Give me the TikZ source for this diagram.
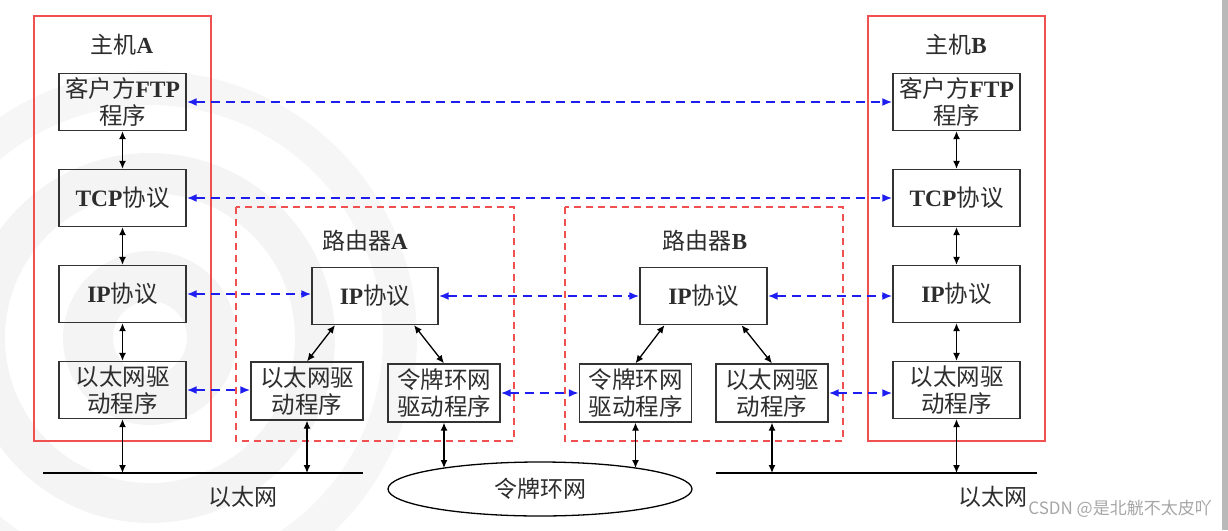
\documentclass[tikz,border=0pt]{standalone}
\usepackage{fontspec}
\setmainfont{Liberation Serif}
\newfontfamily\cjk{Noto Sans CJK SC}
\usetikzlibrary{arrows.meta,shapes.geometric}
\newcommand\zhs[1]{{\cjk #1}}
\definecolor{hostred}{RGB}{240,80,80}
\definecolor{txt}{RGB}{45,45,45}
\definecolor{peerblue}{RGB}{30,30,240}
\tikzset{
  layerbox/.style={draw=black!80, line width=1.3pt, minimum height=57, inner sep=0pt,
     align=center, text=txt, font=\fontsize{23.5}{27}\selectfont},
  hostwide/.style={layerbox, minimum width=127},
  rtrwide/.style={layerbox, minimum width=112, minimum height=58},
  lbl/.style={text=txt, font=\fontsize{23}{25}\selectfont, inner sep=0pt},
  hostframe/.style={draw=hostred, line width=1.4pt},
  rtrframe/.style={draw=hostred, line width=1.4pt, dash pattern=on 7pt off 5pt},
  vlink/.style={black, line width=1.3pt, {Latex[length=8pt,width=7pt]}-{Latex[length=8pt,width=7pt]}},
  peer/.style={peerblue, line width=2pt, dash pattern=on 9pt off 6pt, {Latex[length=10pt,width=8pt]}-{Latex[length=10pt,width=8pt]}},
  ethline/.style={black, line width=2.8pt},
}
\begin{document}
\begin{tikzpicture}[x=1pt,y=-1pt]
\useasboundingbox (0,0) rectangle (1228,530);
% faint background watermark
\begin{scope}
\clip (0,0) rectangle (1228,530);
\draw[gray!9, line width=50pt] (150,338) circle (62);
\draw[gray!9, line width=40pt] (150,338) circle (165);
\draw[gray!7, line width=34pt] (150,338) circle (250);
\end{scope}
\fill[gray!55] (1222,0) rectangle (1228,530);

% frames
\draw[hostframe] (34,16) rectangle (211,441);
\draw[hostframe] (868,16) rectangle (1045,441);
\draw[rtrframe] (236,207) rectangle (514,441);
\draw[rtrframe] (565,207) rectangle (843,441);

% frame labels
\node[lbl] (labA) at (122,45) {\zhs{主机}\textbf{A}};
\node[lbl] (labB) at (956,45) {\zhs{主机}\textbf{B}};
\node[lbl] (labRA) at (365,241) {\zhs{路由器}\textbf{A}};
\node[lbl] (labRB) at (705,241) {\zhs{路由器}\textbf{B}};

% host A
\node[hostwide] (aftp) at (122.5,102) {\zhs{客户方}\textbf{FTP}\\\zhs{程序}};
\node[hostwide] (atcp) at (122.5,198) {\textbf{TCP}\zhs{协议}};
\node[hostwide] (aip)  at (122.5,294) {\textbf{IP}\zhs{协议}};
\node[hostwide] (aeth) at (122.5,390) {\zhs{以太网驱}\\\zhs{动程序}};
% host B
\node[hostwide] (bftp) at (956.5,102) {\zhs{客户方}\textbf{FTP}\\\zhs{程序}};
\node[hostwide] (btcp) at (956.5,198) {\textbf{TCP}\zhs{协议}};
\node[hostwide] (bip)  at (956.5,294) {\textbf{IP}\zhs{协议}};
\node[hostwide] (beth) at (956.5,390) {\zhs{以太网驱}\\\zhs{动程序}};
% router A
\node[hostwide, minimum width=126] (raip) at (375,296) {\textbf{IP}\zhs{协议}};
\node[rtrwide] (raeth) at (307,391) {\zhs{以太网驱}\\\zhs{动程序}};
\node[rtrwide] (ratok) at (444,393) {\zhs{令牌环网}\\\zhs{驱动程序}};
% router B
\node[hostwide] (rbip) at (703.5,296) {\textbf{IP}\zhs{协议}};
\node[rtrwide] (rbtok) at (635.5,393) {\zhs{令牌环网}\\\zhs{驱动程序}};
\node[rtrwide] (rbeth) at (772,393) {\zhs{以太网驱}\\\zhs{动程序}};

% networks
\coordinate (ethL1) at (43,473);
\coordinate (ethL2) at (363,473);
\coordinate (ethR1) at (716,473);
\coordinate (ethR2) at (1037,473);
\draw[ethline] (ethL1) -- (ethL2);
\draw[ethline] (ethR1) -- (ethR2);
\node[lbl] (ethLlab) at (243,497) {\zhs{以太网}};
\node[lbl] (ethRlab) at (993,497) {\zhs{以太网}};
\node[draw=black, line width=1.3pt, ellipse, minimum width=304, minimum height=54, inner sep=0pt,
      text=txt, font=\fontsize{23}{25}\selectfont] (ring) at (540,489) {\zhs{令牌环网}};
\coordinate (ringA) at (444,468);
\coordinate (ringB) at (635.5,468);

% vertical links
\draw[vlink] (aftp) -- (atcp);
\draw[vlink] (atcp) -- (aip);
\draw[vlink] (aip) -- (aeth);
\draw[vlink] (aeth) -- (aeth.south |- ethL1);
\draw[vlink] (bftp) -- (btcp);
\draw[vlink] (btcp) -- (bip);
\draw[vlink] (bip) -- (beth);
\draw[vlink] (beth) -- (beth.south |- ethR1);
\draw[vlink] (raeth) -- (raeth.south |- ethL1);
\draw[vlink] (rbeth) -- (rbeth.south |- ethR1);
\draw[vlink] (ratok) -- (ringA);
\draw[vlink] (rbtok) -- (ringB);
% diagonal links
\draw[vlink] ([xshift=-40pt]raip.south) -- (raeth.north);
\draw[vlink] ([xshift=39pt]raip.south) -- (ratok.north);
\draw[vlink] ([xshift=-39pt]rbip.south) -- (rbtok.north);
\draw[vlink] ([xshift=38pt]rbip.south) -- (rbeth.north);

% peer links
\draw[peer] (aftp) -- (bftp);
\draw[peer] (atcp) -- (btcp);
\draw[peer] (aip.east) -- (aip.east -| raip.west);
\draw[peer] (raip) -- (rbip);
\draw[peer] (rbip.east) -- (rbip.east -| bip.west);
\draw[peer] (aeth.east) -- (aeth.east -| raeth.west);
\draw[peer] (ratok) -- (rbtok);
\draw[peer] (rbeth.east) -- (rbeth.east -| beth.west);

% watermark text
\node[text=gray!70, font=\cjk\fontsize{17}{18}\selectfont, inner sep=0pt, anchor=east] (wm) at (1212,509) {CSDN @是北觥不太皮吖};
\end{tikzpicture}
\end{document}
